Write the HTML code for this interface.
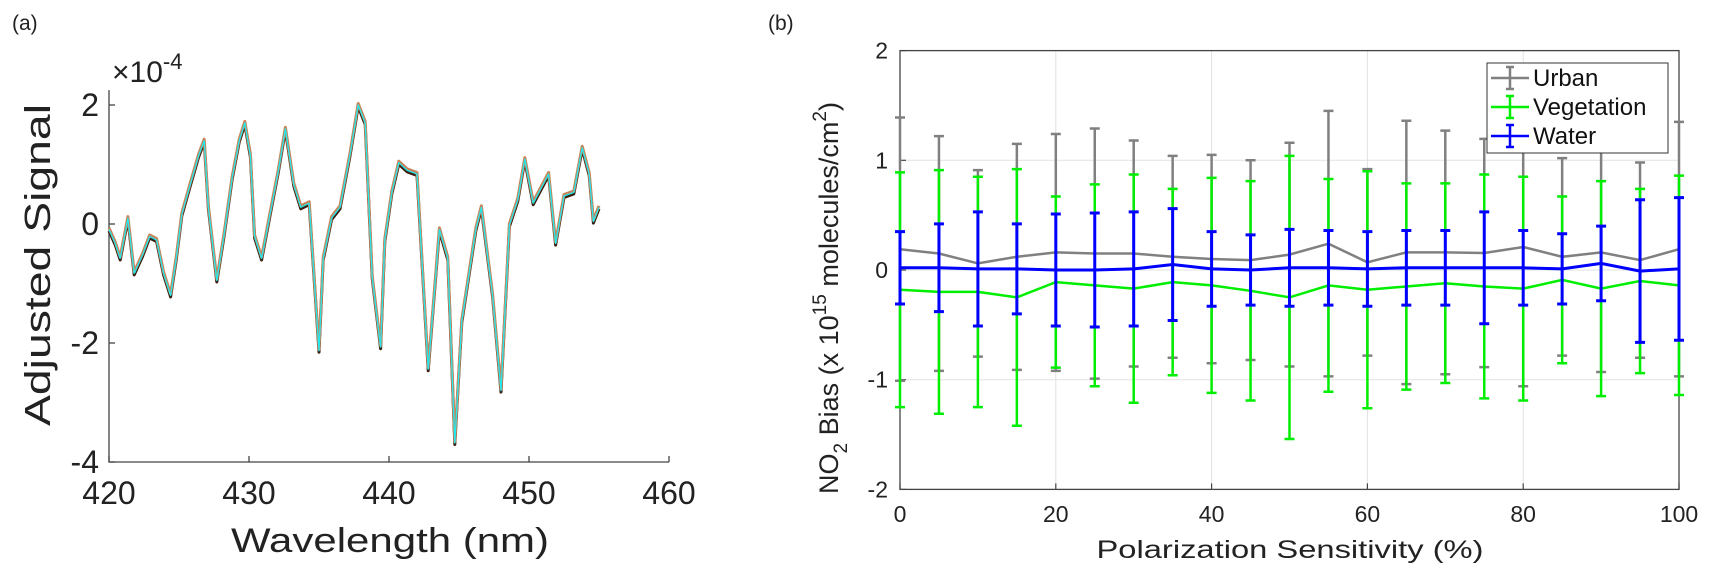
<!DOCTYPE html>
<html><head><meta charset="utf-8"><style>
html,body{margin:0;padding:0;background:#fff;}
svg{display:block;font-family:"Liberation Sans","DejaVu Sans",sans-serif;}
</style></head><body>
<svg id="fig" width="1717" height="580" viewBox="0 0 1717 580">
<text x="12" y="30" font-size="21" fill="#222">(a)</text>
<text x="768" y="30" font-size="21" fill="#222">(b)</text>
<g id="pa"></g>
<g id="pb"></g>
</svg>
<script>
// Panel (a) data
const specWl = [420,420.45,420.8,421.35,421.8,422.4,422.9,423.4,423.9,424.4,424.8,425.2,425.8,426.4,426.8,427.1,427.7,428.2,428.8,429.3,429.7,430.1,430.4,430.9,431.4,432.1,432.6,433.2,433.7,434.3,435,435.3,435.9,436.5,437.2,437.8,438.3,438.8,439.4,439.7,440.2,440.7,441.3,442,442.8,443.6,444.2,444.7,445.2,446.2,446.6,447.4,448,448.6,449.2,449.7,450.3,451.4,451.9,452.5,453.2,453.8,454.3,454.6,455];
const specVal = [-0.09,-0.33,-0.58,0.1,-0.83,-0.52,-0.21,-0.27,-0.83,-1.2,-0.58,0.16,0.66,1.15,1.4,0.28,-0.95,-0.21,0.78,1.4,1.7,1.15,-0.21,-0.58,0.04,0.9,1.6,0.66,0.28,0.35,-2.13,-0.58,0.1,0.28,1.15,2.0,1.7,-0.89,-2.07,-0.27,0.53,1.03,0.9,0.84,-2.44,-0.09,-0.58,-3.68,-1.63,-0.09,0.28,-1.2,-2.8,-0.02,0.41,1.09,0.35,0.84,-0.33,0.47,0.53,1.28,0.84,0.04,0.28];
const aXTicks = [420,430,440,450,460];
const aYTicks = [2,0,-2,-4];

// Panel (b) data
const polX = [0,5,10,15,20,25,30,35,40,45,50,55,60,65,70,75,80,85,90,95,100];
const urbanMean = [0.19,0.15,0.06,0.12,0.16,0.15,0.15,0.12,0.10,0.09,0.14,0.24,0.07,0.16,0.16,0.155,0.21,0.12,0.16,0.09,0.19];
const urbanErr = [1.2,1.07,0.85,1.03,1.08,1.14,1.03,0.92,0.95,0.91,1.02,1.21,0.85,1.2,1.11,1.04,1.27,0.9,1.09,0.89,1.16];
const vegMean = [-0.18,-0.2,-0.2,-0.25,-0.11,-0.14,-0.17,-0.11,-0.14,-0.19,-0.25,-0.14,-0.18,-0.15,-0.12,-0.15,-0.17,-0.09,-0.17,-0.1,-0.14];
const vegErr = [1.07,1.11,1.05,1.17,0.78,0.92,1.04,0.85,0.98,1.0,1.29,0.97,1.08,0.94,0.91,1.02,1.02,0.76,0.98,0.84,1.0];
const waterMean = [0.02,0.02,0.01,0.01,0,0,0.01,0.05,0.01,0,0.02,0.02,0.01,0.02,0.02,0.02,0.02,0.01,0.06,-0.01,0.01];
const waterErr = [0.33,0.4,0.52,0.41,0.51,0.52,0.52,0.51,0.34,0.32,0.35,0.34,0.34,0.34,0.34,0.51,0.34,0.32,0.34,0.65,0.65];
const bXTicks = [0,20,40,60,80,100];
const bYTicks = [2,1,0,-1,-2];

const NS = "http://www.w3.org/2000/svg";
function mk(parent, tag, attrs, txt){
  const e = document.createElementNS(NS, tag);
  for (const k in attrs) e.setAttribute(k, attrs[k]);
  if (txt !== undefined) e.textContent = txt;
  parent.appendChild(e); return e;
}

// ---------- Panel A ----------
const pa = document.getElementById('pa');
const ax = v => 109 + (v - 420) / 40 * 560;
const ay = v => 224 - v * 59.5;
let e = mk(pa,'path',{d:`M${ax(420)},${ay(2.25)} L${ax(420)},${ay(-4)} L${ax(460)},${ay(-4)}`,fill:'none',stroke:'#444','stroke-width':1.3});
 
aXTicks.forEach(t=>{
  const l = mk(pa,'line',{x1:ax(t),x2:ax(t),y1:ay(-4),y2:ay(-4)-6,stroke:'#444','stroke-width':1.3});
   
  const tx = mk(pa,'text',{x:ax(t),y:ay(-4)+42,'font-size':32,'text-anchor':'middle',fill:'#222'},String(t));
   
});
aYTicks.forEach(t=>{
  const l = mk(pa,'line',{x1:ax(420),x2:ax(420)+6,y1:ay(t),y2:ay(t),stroke:'#444','stroke-width':1.3});
   
  const tx = mk(pa,'text',{x:ax(420)-10,y:ay(t)+11,'font-size':32,'text-anchor':'end',fill:'#222'},String(t));
   
});
e = mk(pa,'text',{x:112,y:82,'font-size':30,fill:'#222'});
 
mk(e,'tspan',{},'\u00d710');
mk(e,'tspan',{dy:-13,'font-size':22},'-4');
e = mk(pa,'text',{x:390,y:552,'font-size':34,'text-anchor':'middle',fill:'#222',textLength:318,lengthAdjust:'spacingAndGlyphs'},'Wavelength (nm)');
 
e = mk(pa,'text',{x:0,y:0,'font-size':36,'text-anchor':'middle',fill:'#222',transform:'translate(50,265) rotate(-90)',textLength:322,lengthAdjust:'spacingAndGlyphs'},'Adjusted Signal');
 
const specD = specWl.map((w,i)=>(i?'L':'M')+ax(w).toFixed(1)+','+ay(specVal[i]).toFixed(1)).join(' ');
[['#3a1f10',3,1.5,'spectrum-band-dark'],['#c8845a',3,-1.5,'spectrum-band-copper'],['#22e8f0',1.3,0,'spectrum-cyan']].forEach(s=>{
  const p = mk(pa,'path',{d:specD,fill:'none',stroke:s[0],'stroke-width':s[1],'stroke-linejoin':'round',transform:`translate(0,${s[2]})`});
   
});

// ---------- Panel B ----------
const pb = document.getElementById('pb');
const bx = v => 900 + v / 100 * 779;
const by = v => 270 - v * 109.7;
bXTicks.forEach(t=>{
  const g = mk(pb,'line',{x1:bx(t),x2:bx(t),y1:by(2),y2:by(-2),stroke:'#e2e2e2','stroke-width':1});
   
});
bYTicks.forEach(t=>{
  const g = mk(pb,'line',{x1:bx(0),x2:bx(100),y1:by(t),y2:by(t),stroke:'#e2e2e2','stroke-width':1});
   
});
e = mk(pb,'rect',{x:bx(0),y:by(2),width:bx(100)-bx(0),height:by(-2)-by(2),fill:'none',stroke:'#444','stroke-width':1.3});
 
bXTicks.forEach(t=>{
  const l1 = mk(pb,'line',{x1:bx(t),x2:bx(t),y1:by(-2),y2:by(-2)-6,stroke:'#444','stroke-width':1.2});
   
  const tx = mk(pb,'text',{x:bx(t),y:522,'font-size':23,'text-anchor':'middle',fill:'#222'},String(t));
   
});
bYTicks.forEach(t=>{
  const l1 = mk(pb,'line',{x1:bx(0),x2:bx(0)+6,y1:by(t),y2:by(t),stroke:'#444','stroke-width':1.2});
   
  const tx = mk(pb,'text',{x:bx(0)-12,y:by(t)+8,'font-size':23,'text-anchor':'end',fill:'#222'},String(t));
   
});
e = mk(pb,'text',{x:1290,y:558,'font-size':25,'text-anchor':'middle',fill:'#222',textLength:387,lengthAdjust:'spacingAndGlyphs'},'Polarization Sensitivity (%)');
 
e = mk(pb,'text',{x:0,y:0,'font-size':27,'text-anchor':'middle',fill:'#222',transform:'translate(838,298) rotate(-90)'});
 
mk(e,'tspan',{},'NO');
mk(e,'tspan',{dy:9,'font-size':19},'2');
mk(e,'tspan',{dy:-9},' Bias (x 10');
mk(e,'tspan',{dy:-12,'font-size':19},'15');
mk(e,'tspan',{dy:12},' molecules/cm');
mk(e,'tspan',{dy:-12,'font-size':19},'2');
mk(e,'tspan',{dy:12},')');

function series(name, means, errs, color, w){
  const g = mk(pb,'g',{});
   
  polX.forEach((x,i)=>{
    const X = bx(x), t = by(means[i]+errs[i]), b = by(means[i]-errs[i]);
    const eb = mk(g,'path',{d:`M${X},${t} L${X},${b} M${X-5},${t} L${X+5},${t} M${X-5},${b} L${X+5},${b}`,stroke:color,'stroke-width':w,fill:'none'});
     
  });
  const ln = mk(g,'path',{d:polX.map((x,i)=>(i?'L':'M')+bx(x).toFixed(1)+','+by(means[i]).toFixed(1)).join(' '),stroke:color,'stroke-width':w,fill:'none'});
   
}
series('urban', urbanMean, urbanErr, '#808080', 2.5);
series('vegetation', vegMean, vegErr, '#00ee00', 2.5);
series('water', waterMean, waterErr, '#0000ff', 3);

const lg = mk(pb,'g',{});
 
e = mk(lg,'rect',{x:1487,y:63,width:181,height:90,fill:'#fff',stroke:'#333','stroke-width':1});
 
[['Urban','#808080',86],['Vegetation','#00ee00',115],['Water','#0000ff',144]].forEach(r=>{
  const y = r[2]-8;
  const s = mk(lg,'path',{d:`M1491,${y} L1529,${y} M1510,${y-11} L1510,${y+11} M1506,${y-11} L1514,${y-11} M1506,${y+11} L1514,${y+11}`,stroke:r[1],'stroke-width':2.5,fill:'none'});
   
  const t = mk(lg,'text',{x:1533,y:r[2],'font-size':24,fill:'#111'},r[0]);
   
});
</script>
</body></html>
